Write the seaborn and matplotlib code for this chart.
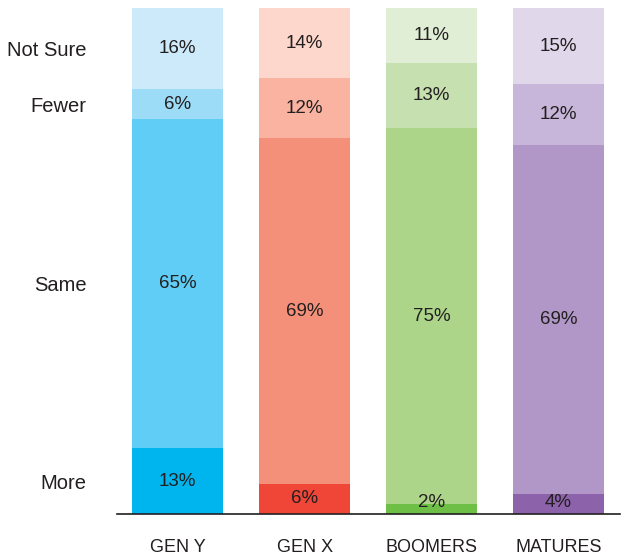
import numpy as np
import pandas as pd
import matplotlib
matplotlib.use("Agg")
import matplotlib.pyplot as plt
import seaborn as sns

generations = ["GEN Y", "GEN X", "BOOMERS", "MATURES"]
answers = ["More", "Same", "Fewer", "Not Sure"]

more = [13, 6, 2, 4]
same = [65, 69, 75, 69]
fewer = [6, 12, 13, 12]
not_sure = [16, 14, 11, 15]

colors = {
    "More": ["#00b4ee", "#ef4638", "#6dbf45", "#8c62aa"],
    "Same": ["#5fcdf5", "#f4907a", "#acd58a", "#b097c7"],
    "Fewer": ["#9ddcf6", "#f9b3a0", "#c7e0b0", "#c7b6d9"],
    "Not Sure": ["#cdeafa", "#fdd7cb", "#e0eed6", "#e0d7eb"],
}

sns.set_style("white")
plt.rcParams["font.family"] = ["Liberation Sans", "DejaVu Sans"]

layers = {"More": more, "Same": same, "Fewer": fewer, "Not Sure": not_sure}
df = pd.DataFrame(layers, index=generations)
# rounding makes some bars add to 101, so scale every bar to a full 100
share = df.div(df.sum(axis=1), axis=0) * 100
cum = share.cumsum(axis=1)

fig = plt.figure(figsize=(6.27, 5.59), dpi=100)
ax = fig.add_axes([0.187, 0.0805, 0.802, 0.905])

# draw cumulative totals from the top layer down so lower layers sit in front
for ans in answers[::-1]:
    d = pd.DataFrame({"gen": generations, "val": cum[ans].values})
    sns.barplot(data=d, x="gen", y="val", hue="gen", palette=colors[ans],
                order=generations, hue_order=generations, legend=False,
                width=0.72, saturation=1, ax=ax, linewidth=0)

# percentage labels
for i, g in enumerate(generations):
    base = 0
    for ans in answers:
        h = share.loc[g, ans]
        mid = max(base + h / 2, 2.2)
        ax.text(i, mid, f"{df.loc[g, ans]}%", ha="center", va="center",
                fontsize=13.5, color="#231f20")
        base += h

# row labels at the GEN Y segment middles
first = share.loc[generations[0]]
mids = (first.cumsum() - first / 2).values
ax.set_yticks(mids)
ax.set_yticklabels(answers, fontsize=14.5, color="#231f20")
ax.tick_params(axis="y", length=0, pad=22)
ax.tick_params(axis="x", length=0, pad=18, labelsize=13, labelcolor="#231f20")

ax.set_xlabel("")
ax.set_ylabel("")
ax.set_xlim(-0.476, 3.485)
ax.set_ylim(0, 100)
for s in ["top", "right", "left"]:
    ax.spines[s].set_visible(False)
ax.spines["bottom"].set_color("#231f20")
ax.spines["bottom"].set_linewidth(1.2)

fig.savefig("out.png", dpi=100)
